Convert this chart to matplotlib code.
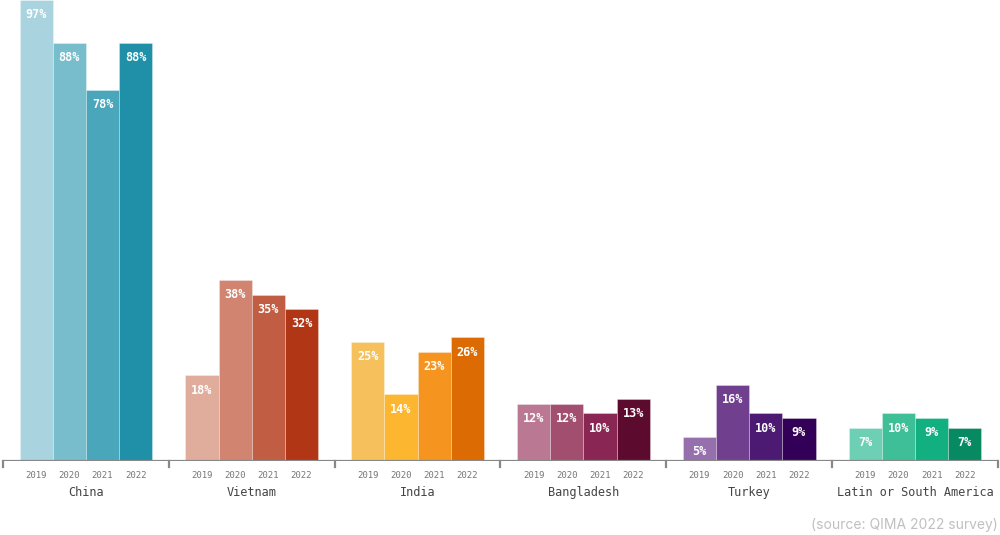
import matplotlib
matplotlib.use('Agg')
import matplotlib.pyplot as plt

# ---- data ----
countries = ['China', 'Vietnam', 'India', 'Bangladesh', 'Turkey', 'Latin or South America']
years = ['2019', '2020', '2021', '2022']
china = [97, 88, 78, 88]
vietnam = [18, 38, 35, 32]
india = [25, 14, 23, 26]
bangladesh = [12, 12, 10, 13]
turkey = [5, 16, 10, 9]
latin = [7, 10, 9, 7]
values = [china, vietnam, india, bangladesh, turkey, latin]

palettes = [
    ['#a8d3df', '#78bdcc', '#4aa7bb', '#2090a8'],
    ['#e0ad9c', '#d18570', '#c05d42', '#b03616'],
    ['#f6c15c', '#fdb62f', '#f5951f', '#dc6b03'],
    ['#bb7892', '#a24f6f', '#8a2653', '#5c0b2e'],
    ['#9670ad', '#70408f', '#4d1a73', '#330057'],
    ['#6dcfb3', '#3ebf97', '#12b081', '#078a62'],
]

mono = 'DejaVu Sans Mono'

fig = plt.figure(figsize=(10, 5.35), dpi=100)
ax = fig.add_axes([0.003, 74 / 535, 0.995, 461 / 535])

bar_w = 0.2
for i, vals in enumerate(values):
    for j, v in enumerate(vals):
        x = i + 0.1 + (j + 0.5) * bar_w
        ax.bar(x, v, width=bar_w, color=palettes[i][j],
               edgecolor=(1, 1, 1, 0.35), linewidth=0.6)
        ax.annotate(f'{v}%', (x, v), xytext=(0, -10.5), textcoords='offset points',
                    ha='center', va='center', color='white', fontsize=8.5,
                    fontweight='bold', family=mono)
        ax.text(x, -3.0, years[j], ha='center', va='center', fontsize=6.5,
                color='#777777', family=mono)
    ax.text(i + 0.5, -6.6, countries[i], ha='center', va='center', fontsize=8.6,
            color='#444444', family=mono)

ax.set_xlim(0, 6)
ax.set_ylim(0, 97)
ax.axhline(0, color='#888888', lw=1.6, zorder=5)
for i in range(7):
    ax.plot([i, i], [0, -1.3], color='#888888', lw=1.6, clip_on=False, zorder=5)
for s in ax.spines.values():
    s.set_visible(False)
ax.set_xticks([])
ax.set_yticks([])

fig.text(0.998, 10 / 535, '(source: QIMA 2022 survey)', ha='right', va='center',
         fontsize=10, color='#c0c0c0', family='Inter')

fig.savefig('out.png', dpi=100)
